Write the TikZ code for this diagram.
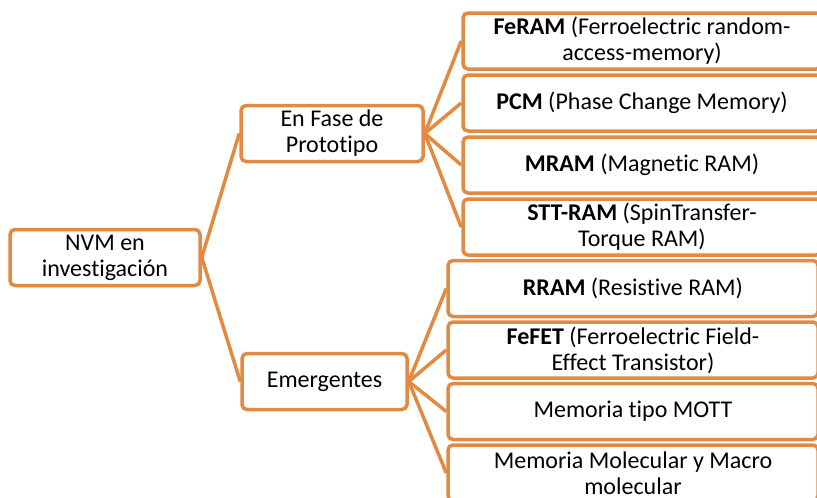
\documentclass[tikz,border=0pt]{standalone}
\usepackage{fontspec}
\setmainfont{Carlito}[Ligatures=NoCommon]
\definecolor{accent}{RGB}{226,137,66}
\tikzset{
  box/.style={draw=accent, fill=white, line width=3.5pt, rounded corners=5pt,
    inner sep=0pt, align=center, font=\fontsize{24}{26}\selectfont,
    minimum height=56pt},
  link/.style={draw=accent, line width=3.5pt},
}
\begin{document}
\begin{tikzpicture}[x=1pt,y=-1pt]
\useasboundingbox (0,0) rectangle (817,498);
% tree levels
\node[box, minimum width=190pt] (root) at (105,257.5) {NVM en\\investigación};
\node[box, minimum width=182pt] (fase) at (332,133.5) {En Fase de\\Prototipo};
\node[box, minimum width=165pt] (emer) at (324.5,381.5) {Emergentes};
% prototypes
\node[box, minimum width=358pt] (feram) at (642,41) {\textbf{FeRAM} (Ferroelectric random-\\access-memory)};
\node[box, minimum width=358pt] (pcm) at (642,103) {\textbf{PCM} (Phase Change Memory)};
\node[box, minimum width=358pt] (mram) at (642,165) {\textbf{MRAM} (Magnetic RAM)};
\node[box, minimum width=358pt] (stt) at (642,227) {\textbf{STT-RAM} (SpinTransfer-\\Torque RAM)};
% emerging
\node[box, minimum width=370pt] (rram) at (633,288.5) {\textbf{RRAM} (Resistive RAM)};
\node[box, minimum width=370pt] (fefet) at (633,350) {\textbf{FeFET} (Ferroelectric Field-\\Effect Transistor)};
\node[box, minimum width=370pt] (mott) at (633,411.5) {Memoria tipo MOTT};
\node[box, minimum width=370pt] (mol) at (633,473) {Memoria Molecular y Macro\\molecular};
% connectors
\foreach \p/\c in {root/fase, root/emer, fase/feram, fase/pcm, fase/mram, fase/stt,
                   emer/rram, emer/fefet, emer/mott, emer/mol}
  \draw[link] (\p.east) -- (\c.west);
\end{tikzpicture}
\end{document}
